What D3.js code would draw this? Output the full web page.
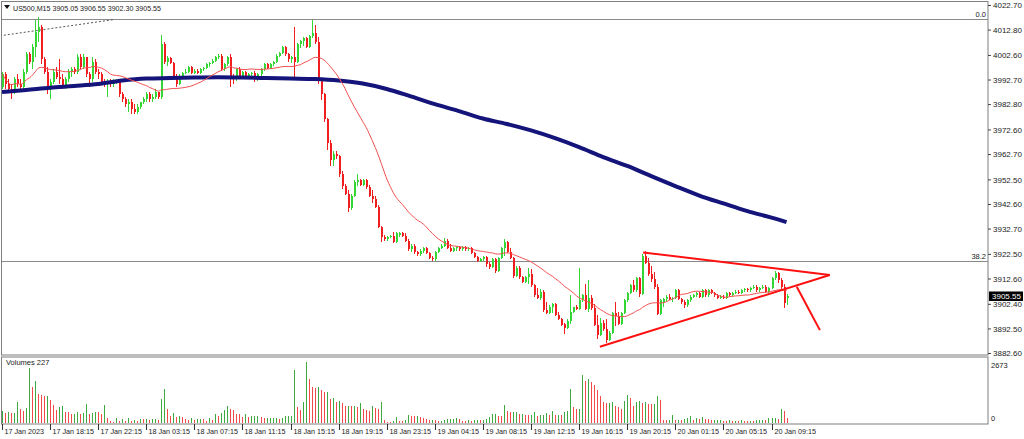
<!DOCTYPE html>
<html>
<head>
<meta charset="utf-8">
<script src="https://cdn.jsdelivr.net/npm/d3@7"></script>
<style>
    body { margin: 0; background: #fff; }
    svg { display: block; font-family: "Liberation Sans", Arial, sans-serif; }
</style>
</head>
<body>
<div id="chart"></div>
<script>
const chartTitle = 'US500,M15  3905.05 3906.55 3902.30 3905.55';

const timeLabels = ['17 Jan 2023', '17 Jan 18:15', '17 Jan 22:15', '18 Jan 03:15', '18 Jan 07:15',
    '18 Jan 11:15', '18 Jan 15:15', '18 Jan 19:15', '18 Jan 23:15', '19 Jan 04:15', '19 Jan 08:15',
    '19 Jan 12:15', '19 Jan 16:15', '19 Jan 20:15', '20 Jan 01:15', '20 Jan 05:15', '20 Jan 09:15'];
const timeLabelBars = [0, 16, 32, 48, 64, 80, 96, 112, 128, 144, 160, 176, 192, 208, 224, 240, 256];

const priceTicks = ['4022.70', '4012.80', '4002.60', '3992.70', '3982.80', '3972.60', '3962.70',
    '3952.50', '3942.60', '3932.70', '3922.50', '3912.60', '3902.40', '3892.50', '3882.60'];
const volumeTicks = [2673, 0];
const lastPrice = 3905.55;
const lastVolume = 227;

// M15 bars: [open, high, low, close]
const candles = [
    [3990,3996,3989,3995],[3995,3996,3989,3991],[3991,3993,3988,3989],[3989,3991,3985,3988],[3988,3994,3987,3993],
    [3993,3995,3990,3991],[3991,3993,3989,3990],[3990,3997,3989,3996],[3996,4004,3995,4003],[4003,4004,3999,4000],
    [4000,4007,3997,4006],[4006,4017,4002,4012],[4012,4018,4008,4014],[4014,4015,3999,4001],[4001,4002,3995,3996],
    [3996,3998,3987,3990],[3990,3993,3985,3992],[3992,3997,3991,3996],[3996,3998,3993,3994],[3994,4001,3991,3993],
    [3993,3995,3989,3990],[3990,3994,3989,3993],[3993,3997,3992,3996],[3996,3998,3994,3997],[3997,3998,3995,3996],
    [3996,4003,3995,4002],[4002,4003,3997,3998],[3998,4003,3997,4002],[4002,4002,3994,3995],[3995,3996,3990,3993],
    [3993,4002,3992,4000],[4000,4001,3995,3996],[3996,3997,3993,3995],[3995,3996,3991,3992],[3992,3993,3990,3991],
    [3991,3993,3986,3992],[3992,3993,3990,3991],[3991,3993,3990,3992],[3992,3993,3991,3992],[3992,3992,3986,3987],
    [3987,3988,3984,3985],[3985,3986,3982,3983],[3983,3985,3980,3984],[3984,3985,3979,3981],[3981,3983,3979,3980],
    [3980,3983,3979,3982],[3982,3984,3981,3984],[3984,3986,3983,3985],[3985,3988,3984,3987],[3987,3988,3984,3985],
    [3985,3987,3984,3986],[3986,3989,3985,3988],[3988,3988,3985,3986],[3986,4011,3985,4007],[4007,4008,3999,4000],
    [4000,4002.5,3998.5,4001.5],[4001.5,4002,3999,3999.5],[3999.5,4000,3993,3994.5],[3994.5,3995,3990,3991],[3991,3995,3990.5,3994.5],
    [3994.5,3996,3993.5,3995.5],[3995.5,3997,3995,3996],[3996,3998.5,3995.5,3998],[3998,3998.5,3995,3995.5],[3995.5,3997,3995,3996.5],
    [3996.5,3997,3995,3995.5],[3995.5,3997.5,3995,3997],[3997,3998,3996.5,3997.5],[3997.5,3999.5,3997,3999],[3999,4000,3998,3999.5],
    [3999.5,4001,3999,4000.5],[4000.5,4002.5,4000,4002],[4002,4003,4001,4002.5],[4002.5,4003,3996.5,3997],[3997,3999.5,3996.5,3999],
    [3999,4002.5,3998.5,4002],[4002,4003,3990,3994],[3994,3995,3991,3993],[3993,3997.5,3992.5,3997],[3997,3998,3993,3993.5],
    [3993.5,3996.5,3993,3996],[3996,3996.5,3993.5,3994],[3994,3995.5,3993.5,3995],[3995,3996,3994,3995.5],[3995.5,3996.5,3992,3993],
    [3993,3995.5,3992.5,3995],[3995,3997.5,3994.5,3997],[3997,3999.5,3996.5,3999],[3999,3999.5,3997,3997.5],[3997.5,3999.5,3997,3999],
    [3999,4000.5,3998.5,4000],[4000,4003,3999.5,4002.5],[4002.5,4004,4002,4003.5],[4003.5,4006.5,4003,4006],[4006,4006.5,4002.5,4003],
    [4003,4003.5,4000,4001],[4001,4002.5,3999.5,4002],[4002,4014,3993.5,4000],[4000,4007.5,3999.5,4007],[4007,4009,4005.5,4008.5],
    [4008.5,4010,4006.5,4009.5],[4009.5,4010,4005.5,4006],[4006,4011,4005.5,4010.5],[4010.5,4017,4009.5,4011.5],[4011.5,4015,4007,4008],
    [4008,4010,3991,3992.5],[3992.5,3993,3984.5,3987],[3987,3987.5,3976,3977],[3977,3977.5,3964.5,3967.5],[3967.5,3968.5,3958,3960.5],
    [3960.5,3964,3958,3963],[3963,3964,3961,3962],[3962,3962.5,3953.5,3955],[3955,3956,3949,3950],[3950,3951,3946.5,3947],
    [3947,3948.5,3939.5,3941],[3941,3947,3940.5,3946],[3946,3952.5,3945.5,3951.5],[3951.5,3955,3950,3952.5],[3952.5,3953,3950,3950.5],
    [3950.5,3953,3950,3952.5],[3952.5,3953,3949,3949.5],[3949.5,3950.5,3945.5,3946],[3946,3948.5,3943,3945],[3945,3946,3941,3941.5],
    [3941.5,3942.5,3933,3933.5],[3933.5,3934,3927.5,3929.5],[3929.5,3930.5,3928,3928.5],[3928.5,3930,3928,3929.5],[3929.5,3930.5,3929,3930],
    [3930,3931.5,3927,3927.5],[3927.5,3931.5,3927,3931],[3930.5,3931.5,3929.5,3931],[3931,3931.5,3929.5,3930],[3930,3931,3927.5,3928],
    [3928,3928.5,3924,3924.5],[3924.5,3926.5,3923.5,3926],[3926,3926.5,3922.5,3923.5],[3923.5,3924,3922,3922.5],[3922.5,3924.5,3922,3924],
    [3924,3925.5,3923,3925],[3925,3925.5,3922.5,3923],[3923,3923.5,3920.5,3921],[3921,3922,3920,3920.5],[3920.5,3924,3920,3923.5],
    [3923.5,3925.5,3923,3925],[3925,3926.5,3924.5,3926],[3926,3929,3925.5,3928],[3928,3928.5,3924.5,3925],[3925,3926.5,3923.5,3924],
    [3924,3925.5,3923.5,3925],[3925,3926,3924,3925.5],[3925.5,3926,3924,3924.5],[3924.5,3926,3924,3925.5],[3925.5,3926,3924,3924.5],
    [3924.5,3925.5,3924,3925],[3925,3925.5,3922.5,3923],[3923,3923.5,3921,3921.5],[3921.5,3922,3919.5,3920],[3920,3921,3919.5,3920.5],
    [3920.5,3922,3920,3921.5],[3921.5,3922,3917.5,3918.5],[3918.5,3919.5,3916.5,3917.5],[3917.5,3921,3917,3920.5],[3920.5,3921,3915,3916],
    [3916,3921.5,3915.5,3921],[3921,3925.5,3920.5,3925],[3925,3928.5,3922,3927.5],[3927.5,3928,3923,3923.5],[3923.5,3925,3920.5,3921],
    [3921,3921.5,3913,3914],[3914,3918,3913.5,3917],[3917,3918,3912.5,3913.5],[3913.5,3914,3911,3911.5],[3911.5,3914,3911,3913.5],
    [3913.5,3917,3910.5,3914.5],[3914.5,3916.5,3909.5,3910],[3910,3910.5,3905.5,3906],[3906,3909,3904.5,3905],[3905,3908.5,3904,3907.5],
    [3907.5,3908,3899.5,3900],[3900,3903.5,3898.5,3899],[3899,3902,3898.5,3901.5],[3901.5,3903,3899,3902.5],[3902.5,3903,3897.5,3898],
    [3898,3899.5,3896,3896.5],[3896.5,3897,3893.5,3894],[3894.5,3895,3890.5,3893],[3893,3896.5,3892.5,3895.5],[3895.5,3906,3894.5,3899.5],
    [3899.5,3901.5,3899,3901.5],[3901.5,3902,3900,3900.5],[3900.5,3917,3900,3904],[3904,3906.5,3903.5,3906],[3906,3910.5,3900,3900.5],
    [3900.5,3912,3899.5,3905],[3905,3906,3900,3901],[3901,3902.5,3893.5,3894],[3894,3898,3888.5,3890],[3890,3897,3889.5,3895],
    [3895,3896,3891.5,3892.5],[3892.5,3896.5,3887,3888],[3888,3891.5,3887.5,3891],[3891,3899.5,3890.5,3899],[3899,3903.5,3893.5,3897.5],
    [3897.5,3899.5,3894,3894.5],[3894.5,3899.5,3894,3899],[3899,3904.5,3898.5,3904],[3904,3907.5,3903.5,3907],[3907,3910.5,3906.5,3910],
    [3910,3912,3907.5,3908],[3908,3913.5,3907.5,3913],[3913,3913.5,3905.5,3906.5],[3906.5,3922.5,3906,3922],[3922,3924,3918.5,3919],
    [3919,3921,3914,3914.5],[3914.5,3918,3911.5,3912.5],[3912.5,3915.5,3908.5,3909.5],[3909.5,3910.5,3898,3898.5],[3898.5,3904.5,3898,3904],
    [3903.5,3905,3901.5,3904.5],[3904.5,3906,3903.5,3905.5],[3905.5,3906.5,3904,3904.5],[3904.5,3905.5,3903.5,3905],[3905,3908.5,3904.5,3908],
    [3908,3908.5,3904,3904.5],[3904.5,3905,3902.5,3903.5],[3903.5,3904,3901,3902],[3902,3904.5,3901.5,3904],[3904,3906,3903.5,3905.5],
    [3905.5,3906.5,3905,3906],[3906,3907.5,3905.5,3907],[3907,3907.5,3905,3905.5],[3905.5,3908.5,3905,3908],[3908,3908.5,3905.5,3906],
    [3906,3908.5,3905.5,3908],[3908,3908.5,3906.5,3907],[3907,3907.5,3905.5,3906],[3906,3906.5,3904.5,3905],[3905,3906,3904.5,3905.5],
    [3905.5,3906,3904.5,3905],[3905,3907.5,3904.5,3907],[3907,3907.5,3905.5,3906],[3906,3907.5,3905.5,3907],[3907,3908,3906.5,3907.5],
    [3907.5,3908,3906.5,3907],[3907,3908.5,3906.5,3908],[3908,3909,3907.5,3908.5],[3908.5,3909,3907.5,3908],[3908,3909.5,3907.5,3909],
    [3909,3910,3908.5,3909.5],[3909.5,3910,3907.5,3908],[3908,3909.5,3907.5,3909],[3909,3910,3908.5,3909.5],[3909.5,3910,3907,3907.5],
    [3907.5,3909.5,3907,3909],[3909,3913.5,3908.5,3913],[3913,3916,3912,3915],[3915,3915.5,3911,3912],[3912,3913,3908.5,3909.5],
    [3909.5,3910.5,3901,3903],[3905.05,3906.55,3902.3,3905.55]
];

const volumes = [
    540,438,467,438,438,905,613,511,657,2409, 1577,1854,1270,1241,1168,1197,993,803,555,701,
    730,496,467,409,409,496,409,438,832,394, 438,482,467,394,803,204,102,29,234,88,
    175,102,219,88,146,102,175,161,190,131, 175,190,146,1051,1489,613,321,438,248,321,
    248,175,146,204,146,190,190,175,102,219, 146,409,292,438,584,730,613,584,409,394,
    263,394,248,292,292,292,248,219,219,219, 219,219,175,219,321,321,321,2307,701,584,
    905,2672,1927,1577,1533,1577,1460,1358,1358,1066, 1095,905,949,876,730,759,730,730,701,876,
    613,584,540,730,657,613,905,146,58,29, 73,263,102,73,117,350,321,292,292,248,
    219,175,146,146,117,102,102,131,161,175, 190,204,161,102,88,117,102,117,146,117,
    146,190,248,380,380,321,292,803,511,496, 496,496,394,394,365,336,365,467,321,365,
    365,423,336,540,365,365,336,467,540,1489, 701,613,613,2117,1854,1927,1781,1650,1460,1197,
    934,876,876,905,759,701,613,949,1212,1095, 730,905,949,876,905,847,832,847,1197,1022,
    146,117,117,365,117,146,117,190,219,292, 146,204,175,277,190,175,131,131,146,146,
    102,88,117,73,102,73,117,88,73,102, 88,117,131,146,131,219,219,219,175,613,
    540,227
];

// slow moving average: [bar, price]
const slowMa = [
    [0,3987.9],[8,3988.7],[16,3989.6],[24,3990.3],[32,3991.1],[40,3992.5],[48,3993.3],[56,3993.5],
    [64,3993.7],[72,3993.8],[80,3993.7],[88,3993.5],[96,3993.3],[104,3993.1],[112,3992.5],[120,3991.3],
    [128,3989.1],[136,3986.1],[144,3983.0],[152,3980.2],[160,3977.2],[168,3975.0],[176,3972.4],[184,3969.3],
    [192,3965.7],[200,3961.7],[208,3958.1],[216,3954.0],[224,3950.0],[232,3946.2],[240,3943.0],[248,3939.9],
    [256,3937.3],[261,3935.5]
];
const fastMaPeriod = 24;

const fibLevels = [
    { label: '0.0', price: 4017.2 },
    { label: '38.2', price: 3919.8 }
];
const fibTrend = [[-0.7, 4010.5], [37.0, 4017.0]];

// hand drawn triangle + breakout arrow: [[bar, price], [bar, price]]
const drawnLines = [
    [[213.3, 3923.3], [275.4, 3914.2]],
    [[198.9, 3885.3], [275.4, 3914.2]],
    [[264.4, 3909.5], [272.1, 3892.0]]
];

const W = 1024, H = 439;
const PANEL = { left: 1.5, right: 988, top: 1.5, bottom: 355 };
const VOL = { top: 357, bottom: 424 };
const COLORS = {
    up: '#33d633', down: '#f01e1e', volUp: '#3fa83f', volDown: '#f24a4a',
    fastMa: '#f25050', slowMa: '#14147a', frame: '#7f7f7f', text: '#222', draw: '#ff1010'
};

const svg = d3.select('#chart').append('svg')
    .attr('width', W)
    .attr('height', H);

const xScale = d3.scaleLinear().domain([0, 256]).range([2, 771.5]);
const yScale = d3.scaleLinear().domain([3882.6, 4022.7]).range([353.5, 5.5]);
const vScale = d3.scaleLinear().domain([0, 2673]).range([423, 362]);

const defs = svg.append('defs');
defs.append('clipPath').attr('id', 'main-clip')
    .append('rect')
    .attr('x', 2).attr('y', 2)
    .attr('width', PANEL.right - 2).attr('height', PANEL.bottom - 2.5);

// frames
svg.append('rect')
    .attr('x', PANEL.left).attr('y', PANEL.top)
    .attr('width', PANEL.right - PANEL.left).attr('height', PANEL.bottom - PANEL.top)
    .attr('fill', '#fff').attr('stroke', COLORS.frame);
svg.append('rect')
    .attr('x', PANEL.left).attr('y', VOL.top)
    .attr('width', PANEL.right - PANEL.left).attr('height', VOL.bottom - VOL.top)
    .attr('fill', '#fff').attr('stroke', COLORS.frame);

const plot = svg.append('g').attr('clip-path', 'url(#main-clip)');

// fibonacci levels
fibLevels.forEach(level => {
    const y = Math.round(yScale(level.price)) + 0.5;
    plot.append('line')
        .attr('x1', 0).attr('x2', PANEL.right)
        .attr('y1', y).attr('y2', y)
        .attr('stroke', '#8a8a8a').attr('stroke-width', 1.2);
    svg.append('text')
        .attr('x', PANEL.right - 2).attr('y', y - 3)
        .attr('text-anchor', 'end')
        .attr('font-size', 7.5)
        .attr('fill', COLORS.text)
        .text(level.label);
});

plot.append('path')
    .datum(fibTrend)
    .attr('d', d3.line().x(d => xScale(d[0])).y(d => yScale(d[1])))
    .attr('fill', 'none')
    .attr('stroke', '#555')
    .attr('stroke-dasharray', '2,2');

// candles
const candleG = plot.append('g').attr('shape-rendering', 'crispEdges');
candles.forEach((c, i) => {
    const [o, h, l, cl] = c;
    const x = Math.round(xScale(i));
    const color = cl >= o ? COLORS.up : COLORS.down;
    candleG.append('line')
        .attr('x1', x + 0.5).attr('x2', x + 0.5)
        .attr('y1', yScale(h)).attr('y2', yScale(l))
        .attr('stroke', color);
    const top = yScale(Math.max(o, cl));
    const bodyH = Math.max(1, Math.abs(yScale(o) - yScale(cl)));
    candleG.append('rect')
        .attr('x', x - 0.5).attr('y', top)
        .attr('width', 2).attr('height', bodyH)
        .attr('fill', color);
});

// moving averages
const closes = candles.map(d => d[3]);
const fastMa = closes.map((c, i) => d3.mean(closes.slice(Math.max(0, i - fastMaPeriod + 1), i + 1)));

plot.append('path')
    .datum(slowMa)
    .attr('d', d3.line().x(d => xScale(d[0])).y(d => yScale(d[1])).curve(d3.curveMonotoneX))
    .attr('fill', 'none')
    .attr('stroke', COLORS.slowMa)
    .attr('stroke-width', 4);

plot.append('path')
    .datum(fastMa)
    .attr('d', d3.line().x((d, i) => xScale(i) + 0.5).y(d => yScale(d)).curve(d3.curveMonotoneX))
    .attr('fill', 'none')
    .attr('stroke', COLORS.fastMa)
    .attr('stroke-width', 1);

// triangle + arrow
drawnLines.forEach(seg => {
    plot.append('line')
        .attr('x1', xScale(seg[0][0])).attr('y1', yScale(seg[0][1]))
        .attr('x2', xScale(seg[1][0])).attr('y2', yScale(seg[1][1]))
        .attr('stroke', COLORS.draw)
        .attr('stroke-width', 2);
});

// title
svg.append('path')
    .attr('d', 'M4,5 L10,5 L7,9 Z')
    .attr('fill', '#111');
svg.append('text')
    .attr('x', 13).attr('y', 10.5)
    .attr('font-size', 7.8)
    .attr('textLength', 148)
    .attr('lengthAdjust', 'spacingAndGlyphs')
    .attr('fill', COLORS.text)
    .text(chartTitle);

// price axis
const axisG = svg.append('g').attr('font-size', 8).attr('fill', COLORS.text);
priceTicks.forEach(t => {
    const y = yScale(+t);
    axisG.append('line')
        .attr('x1', PANEL.right).attr('x2', PANEL.right + 3)
        .attr('y1', y).attr('y2', y)
        .attr('stroke', '#444');
    axisG.append('text')
        .attr('x', PANEL.right + 5).attr('y', y)
        .attr('dy', '0.35em')
        .text(t);
});

// current price marker
const lpY = yScale(lastPrice);
svg.append('rect')
    .attr('x', PANEL.right + 1).attr('y', lpY - 5)
    .attr('width', 34).attr('height', 9.5)
    .attr('fill', '#000');
svg.append('text')
    .attr('x', PANEL.right + 4).attr('y', lpY)
    .attr('dy', '0.35em')
    .attr('font-size', 8)
    .attr('fill', '#fff')
    .text(lastPrice.toFixed(2));

// volumes
const volG = svg.append('g').attr('shape-rendering', 'crispEdges');
volumes.forEach((v, i) => {
    const x = Math.round(xScale(i)) + 0.5;
    const up = i === 0 || v >= volumes[i - 1];
    volG.append('line')
        .attr('x1', x).attr('x2', x)
        .attr('y1', vScale(0)).attr('y2', vScale(v))
        .attr('stroke', up ? COLORS.volUp : COLORS.volDown)
        .attr('stroke-width', 1.3);
});

svg.append('text')
    .attr('x', 6).attr('y', 365)
    .attr('font-size', 7.5)
    .attr('fill', COLORS.text)
    .text(`Volumes ${lastVolume}`);

volumeTicks.forEach(v => {
    svg.append('text')
        .attr('x', PANEL.right + 3)
        .attr('y', v === 0 ? vScale(v) - 5 : vScale(v) + 3)
        .attr('dy', '0.35em')
        .attr('font-size', 7.5)
        .attr('fill', COLORS.text)
        .text(v);
});

// time axis
timeLabelBars.forEach((b, i) => {
    const x = Math.round(xScale(b)) + 0.5;
    svg.append('line')
        .attr('x1', x).attr('x2', x)
        .attr('y1', VOL.bottom).attr('y2', VOL.bottom + 6)
        .attr('stroke', '#333');
    svg.append('text')
        .attr('x', x + 2).attr('y', 431)
        .attr('dy', '0.35em')
        .attr('font-size', 7.2)
        .attr('fill', COLORS.text)
        .text(timeLabels[i]);
});
</script>
</body>
</html>
